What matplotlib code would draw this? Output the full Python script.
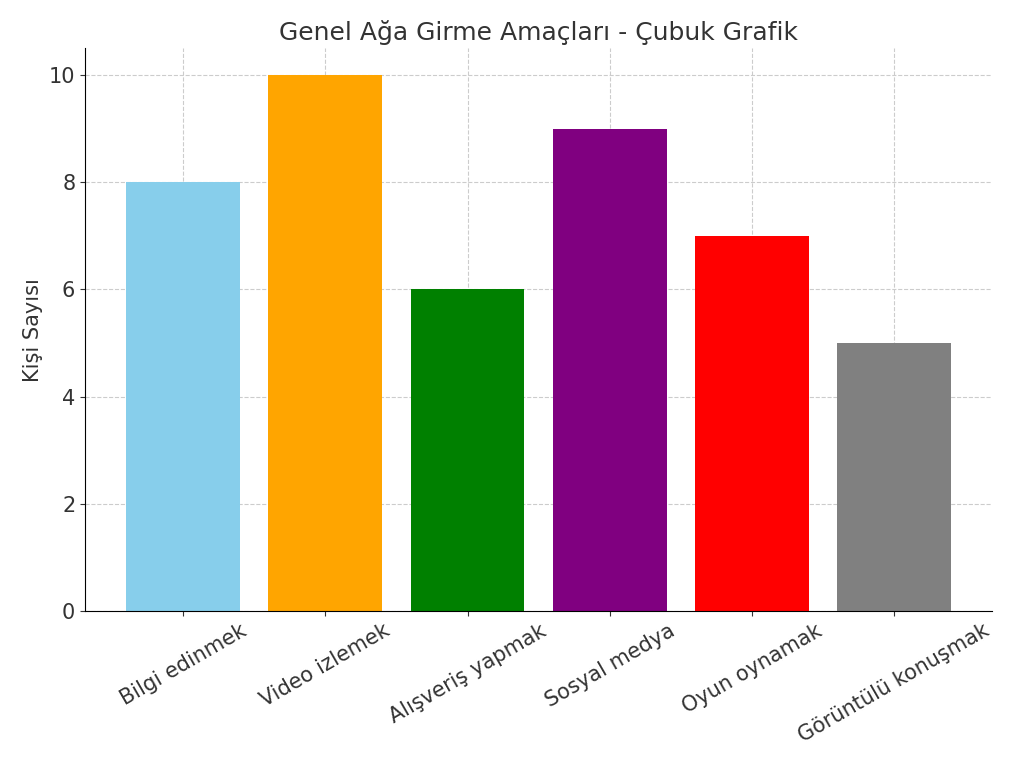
import matplotlib
matplotlib.use("Agg")
import matplotlib.pyplot as plt

categories = ["Bilgi edinmek", "Video izlemek", "Alışveriş yapmak", "Sosyal medya", "Oyun oynamak", "Görüntülü konuşmak"]
values = [8, 10, 6, 9, 7, 5]
colors = ["skyblue", "orange", "green", "purple", "red", "gray"]

tc = "#333333"
fig = plt.figure(figsize=(10.24, 7.81), dpi=100)
ax = fig.add_axes([0.083, 0.218, 0.886, 0.72])
ax.bar(categories, values, color=colors, zorder=2, width=0.8)
ax.set_title("Genel Ağa Girme Amaçları - Çubuk Grafik", fontsize=18, color=tc)
ax.set_ylabel("Kişi Sayısı", fontsize=15, color=tc)
ax.set_ylim(0, 10.5)
ax.grid(True, linestyle="--", color="#cccccc", zorder=0)
ax.spines["top"].set_visible(False)
ax.spines["right"].set_visible(False)
ax.tick_params(labelsize=15, colors=tc)
plt.setp(ax.get_xticklabels(), rotation=30, ha="center")
fig.savefig("out.png", dpi=100)
